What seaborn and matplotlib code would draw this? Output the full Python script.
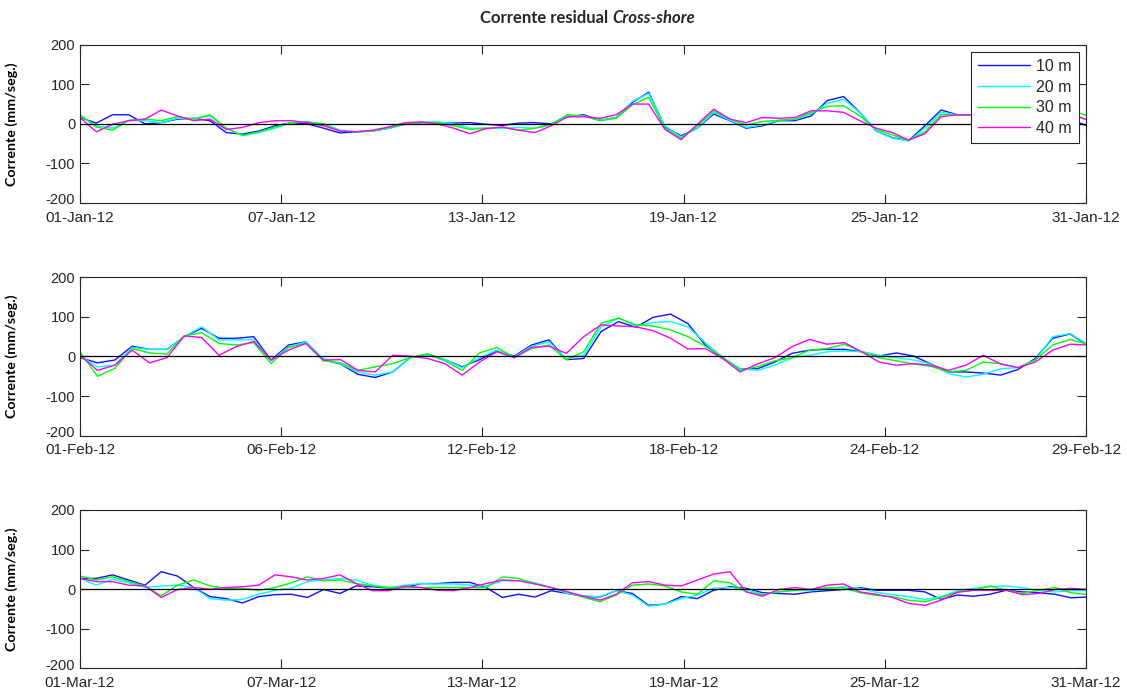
import numpy as np
import pandas as pd
import matplotlib
matplotlib.use("Agg")
import matplotlib.pyplot as plt
import matplotlib.transforms as mtransforms
import seaborn as sns

# ---------------- data (values every 12 h, mm/s) ----------------
depths = ["10 m", "20 m", "30 m", "40 m"]
line_colors = ["#1010ff", "#00ffff", "#00ff00", "#ff00ff"]

jan_10 = [16, 2, 23, 23, 0, 3, 12, 14, 8, -22, -26, -18,
          -5, 3, 0, -11, -23, -20, -18, -11, -1, 3, 3, 2,
          3, -1, -4, 2, 3, 0, 18, 23, 9, 16, 54, 80,
          -8, -30, -11, 25, 8, -11, -5, 8, 8, 20, 59, 69,
          29, -18, -35, -42, -5, 35, 23, 23, 18, 10, 5, 12,
          20, 10, -5]
jan_20 = [20, -5, -11, 8, 8, 3, 14, 13, 20, -11, -30, -22,
          -11, 3, 5, 0, -16, -20, -18, -11, -1, 5, 5, 0,
          -11, -11, -11, -9, -11, -3, 20, 20, 9, 16, 57, 77,
          -5, -33, -11, 29, 9, -9, -3, 9, 11, 25, 52, 62,
          29, -18, -36, -43, -11, 29, 23, 23, 18, 12, 8, 14,
          22, 22, 10]
jan_30 = [23, -8, -16, 9, 12, 8, 18, 12, 23, -11, -29, -20,
          -8, 3, 5, 0, -18, -20, -18, -9, -1, 3, 3, -5,
          -14, -11, -9, -16, -11, -1, 23, 20, 8, 14, 48, 67,
          -11, -36, -5, 33, 12, -3, 6, 9, 12, 29, 44, 46,
          20, -14, -28, -41, -20, 23, 23, 23, 20, 15, 12, 18,
          28, 35, 20]
jan_40 = [16, -20, -1, 8, 12, 35, 20, 8, 12, -14, -9, 3,
          8, 8, 3, -5, -18, -20, -16, -8, 3, 5, 0, -11,
          -25, -12, -8, -16, -22, -5, 18, 18, 14, 23, 50, 50,
          -14, -40, -1, 37, 12, 3, 16, 14, 16, 33, 33, 29,
          8, -11, -22, -41, -25, 18, 23, 23, 22, 18, 15, 15,
          20, 25, 10]

feb_10 = [-3, -16, -9, 26, 18, 18, 50, 71, 46, 46, 50, -9,
          29, 37, -8, -19, -45, -53, -39, -3, 6, -8, -26, -8,
          14, 1, 29, 42, -8, -5, 63, 88, 74, 99, 107, 83,
          29, -5, -31, -31, -14, 8, 16, 18, 18, 12, 1, 9,
          1, -19, -39, -39, -42, -47, -33, -5, 46, 57, 29]
feb_20 = [1, -26, -22, 23, 18, 18, 50, 75, 42, 42, 43, -11,
          24, 37, -5, -19, -39, -47, -39, -3, 3, -8, -28, -3,
          16, -1, 26, 37, -5, 3, 75, 97, 77, 86, 88, 75,
          35, -3, -31, -35, -22, -3, 3, 12, 14, 12, 3, -3,
          -9, -19, -43, -52, -45, -31, -28, -9, 50, 58, 31]
feb_30 = [12, -50, -30, 20, 9, 6, 52, 60, 33, 29, 35, -18,
          23, 33, -11, -16, -35, -26, -18, -3, 6, -11, -35, 9,
          23, -3, 20, 29, -8, 12, 84, 97, 80, 77, 67, 50,
          26, -1, -35, -26, -11, -3, 16, 20, 31, 12, -3, -11,
          -19, -25, -39, -35, -14, -18, -28, -9, 29, 43, 31]
feb_40 = [3, -35, -22, 16, -16, -3, 52, 48, 3, 25, 38, -9,
          16, 33, -9, -8, -35, -39, 3, 1, -5, -18, -47, -14,
          12, -3, 23, 26, 8, 50, 80, 77, 75, 65, 46, 19,
          20, -5, -39, -19, -3, 25, 43, 31, 35, 12, -14, -22,
          -18, -22, -35, -22, 3, -19, -28, -14, 16, 31, 29]

mar_10 = [27, 27, 36, 23, 10, 44, 33, 4, -19, -24, -35, -19,
          -14, -13, -21, -1, -11, 8, 6, 3, 4, 14, 14, 17,
          17, 4, -21, -13, -20, -4, -11, -18, -20, -4, -11, -41,
          -38, -19, -24, -3, 6, 2, -9, -11, -13, -7, -4, -1,
          4, -3, -3, -3, -7, -26, -15, -18, -13, -3, -7, -9,
          -13, -22, -20]
mar_20 = [27, 10, 25, 16, 4, 8, 10, 4, -24, -28, -26, -13,
          -3, 2, 19, 23, 27, 23, 10, 4, 10, 14, 13, 13,
          10, 8, 21, 21, 16, 4, -11, -17, -19, -4, -15, -43,
          -38, -24, -15, 2, 4, -1, -13, -7, -3, -4, 2, 6,
          2, -8, -14, -19, -26, -19, -4, 2, 6, 8, 4, -4,
          -7, -4, -4]
mar_30 = [33, 23, 31, 19, 8, -17, 10, 23, 8, 2, 2, -3,
          4, 16, 31, 21, 23, 14, 8, 4, 4, 4, 4, 4,
          4, 4, 31, 27, 14, 4, -7, -21, -32, -15, 10, 13,
          8, -7, -13, 21, 16, -7, -14, -7, -3, -1, 4, 3,
          -9, -16, -19, -28, -32, -21, -7, -3, 8, -3, -11, -3,
          4, -9, -14]
mar_40 = [27, 19, 19, 10, 8, -21, -1, 4, 0, 4, 6, 10,
          36, 31, 23, 27, 36, 14, -4, -4, 8, 4, -3, -4,
          4, 14, 23, 21, 13, 4, -7, -18, -28, -13, 16, 19,
          10, 8, 23, 38, 44, -7, -18, -1, 4, -1, 10, 13,
          -7, -13, -21, -36, -41, -28, -8, -3, -3, -3, -14, -11,
          -1, 2, -1]

jan_ticks = ["01-Jan-12", "07-Jan-12", "13-Jan-12", "19-Jan-12", "25-Jan-12", "31-Jan-12"]
feb_ticks = ["01-Feb-12", "06-Feb-12", "12-Feb-12", "18-Feb-12", "24-Feb-12", "29-Feb-12"]
mar_ticks = ["01-Mar-12", "07-Mar-12", "13-Mar-12", "19-Mar-12", "25-Mar-12", "31-Mar-12"]
month_days = [31, 29, 31]
y_ticks = [-200, -100, 0, 100, 200]

months = [
    ([jan_10, jan_20, jan_30, jan_40], jan_ticks, month_days[0]),
    ([feb_10, feb_20, feb_30, feb_40], feb_ticks, month_days[1]),
    ([mar_10, mar_20, mar_30, mar_40], mar_ticks, month_days[2]),
]
step_days = 0.5

# ---------------- style ----------------
sns.set_theme(style="white")
plt.rcParams["font.family"] = ["Liberation Sans", "DejaVu Sans"]
plt.rcParams["axes.edgecolor"] = "#262626"

fig = plt.figure(figsize=(11.27, 6.91), dpi=100)
axes_pos = [
    [0.0710, 0.7062, 0.8926, 0.2291],
    [0.0710, 0.3695, 0.8926, 0.2292],
    [0.0710, 0.0329, 0.8926, 0.2291],
]
palette = dict(zip(depths, line_colors))

for i, (series, tick_labels, ndays) in enumerate(months):
    ax = fig.add_axes(axes_pos[i])
    frames = []
    for d, v in zip(depths, series):
        frames.append(pd.DataFrame({"day": np.arange(len(v)) * step_days,
                                    "value": v, "depth": d}))
    df = pd.concat(frames, ignore_index=True)
    sns.lineplot(data=df, x="day", y="value", hue="depth", palette=palette,
                 ax=ax, linewidth=1.0, estimator=None, sort=False,
                 legend=(i == 0))
    ax.axhline(0, color="black", lw=0.9, zorder=5)
    xmax = ndays - 1 / 24
    ax.set_xlim(0, xmax)
    ax.set_ylim(-200, 200)
    ax.set_xticks(np.linspace(0, xmax, 6))
    ax.set_xticklabels(tick_labels)
    ax.set_yticks(y_ticks)
    ax.set_yticklabels([str(t) for t in y_ticks])
    ax.tick_params(direction="in", length=6.5, width=0.8, top=True, right=True,
                   bottom=True, left=True, labelcolor="#262626",
                   color="#262626")
    ax.tick_params(axis="x", labelsize=11, pad=5.5)
    ax.tick_params(axis="y", labelsize=10.5, pad=3.5)
    # nudge the lowest y label up a little so it clears the date labels
    ylabs = ax.get_yticklabels()
    ylabs[0].set_transform(ylabs[0].get_transform() +
                           mtransforms.ScaledTranslation(0, 3 / 72, fig.dpi_scale_trans))
    for s in ax.spines.values():
        s.set_color("#262626")
        s.set_linewidth(0.8)
    ax.set_xlabel("")
    ax.set_ylabel("Corrente (mm/seg.)", fontfamily=["Lato", "DejaVu Sans"],
                  fontweight="bold", fontsize=10.3, color="black")
    ax.yaxis.set_label_coords(-0.062, 0.5)
    if i == 0:
        sns.move_legend(ax, "upper right", bbox_to_anchor=(1, 1), title=None,
                        borderaxespad=0.45, fontsize=11.5, handlelength=3.2,
                        handletextpad=0.4, labelspacing=0.35, borderpad=0.45,
                        frameon=True, fancybox=False, edgecolor="#262626",
                        framealpha=1)
        leg = ax.get_legend()
        leg.get_frame().set_linewidth(0.8)
        for t in leg.get_texts():
            t.set_color("#262626")

fig.text(0.5395, 0.974, "Corrente residual", ha="right", va="center",
         fontfamily=["Lato", "DejaVu Sans"], fontweight="bold", fontsize=12)
fig.text(0.5435, 0.974, "Cross-shore", ha="left", va="center",
         fontfamily=["Lato", "DejaVu Sans"], fontweight="bold", style="italic",
         fontsize=12)

fig.savefig("out.png", dpi=100)
